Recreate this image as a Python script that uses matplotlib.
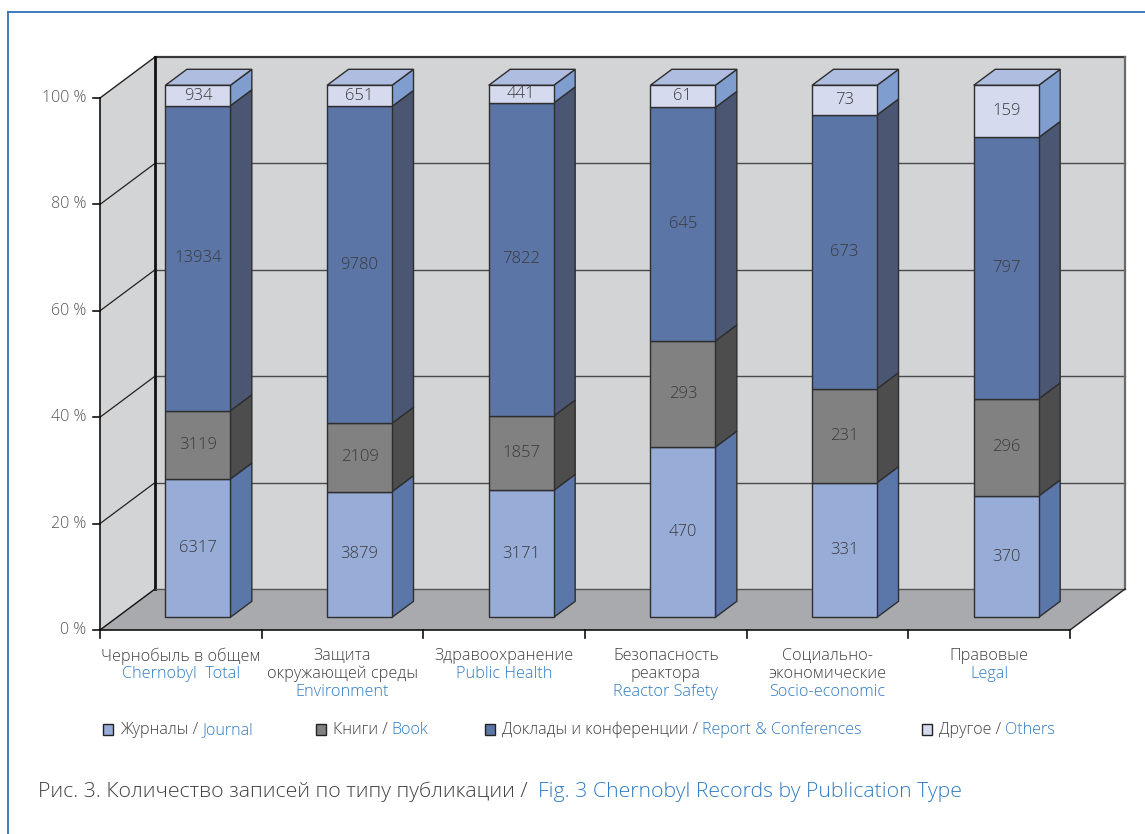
import matplotlib
matplotlib.use("Agg")
import matplotlib.pyplot as plt
from matplotlib.patches import Polygon, Rectangle
from matplotlib.lines import Line2D

plt.rcParams['font.family'] = ['Open Sans', 'DejaVu Sans']
plt.rcParams['font.weight'] = 'light'

# ---------------- data ----------------
categories_ru = [["Чернобыль в общем"], ["Защита", "окружающей среды"], ["Здравоохранение"],
                 ["Безопасность", "реактора"], ["Социально-", "экономические"], ["Правовые"]]
categories_en = ["Chernobyl  Total", "Environment", "Public Health",
                 "Reactor Safety", "Socio-economic", "Legal"]
journal = [6317, 3879, 3171, 470, 331, 370]
book = [3119, 2109, 1857, 293, 231, 296]
report = [13934, 9780, 7822, 645, 673, 797]
others = [934, 651, 441, 61, 73, 159]
series_ru = ["Журналы", "Книги", "Доклады и конференции", "Другое"]
series_en = ["Journal", "Book", "Report & Conferences", "Others"]
yticks = [0, 20, 40, 60, 80, 100]
ytick_labels = ["0 %", "20 %", "40 %", "60 %", "80 %", "100 %"]

# ---------------- styles ----------------
front_colors = ["#98acd8", "#818181", "#5a75a6", "#d5daee"]
side_colors = ["#5b76a9", "#4d4d4d", "#4b5672", "#809dd0"]
top_color = "#afbee0"
edge = "#2e2e2e"
wall = "#d3d4d6"
floor_c = "#a9aaad"
grey_txt = "#404040"
blue_txt = "#2f7bc2"

W, H = 1145, 834
fig = plt.figure(figsize=(W / 100, H / 100), dpi=100)
ax = fig.add_axes([0, 0, 1, 1])
X0, Y0 = 100.0, 630.0
UX, PY = 161.67, 5.32
ax.set_xlim((0 - X0) / UX, (W - X0) / UX)
ax.set_ylim((Y0 - H) / PY, Y0 / PY)
ax.axis('off')

DXu, DYp = 55 / UX, 41 / PY
n = len(journal)


def proj(u, p, d):
    return (u + d * DXu, p + d * DYp)


def px(x, y):
    return ((x - X0) / UX, (Y0 - y) / PY)


# frame
fig.add_artist(Line2D([8 / W, 1.0], [1 - 12 / H, 1 - 12 / H], color="#2f6fb6", lw=1.3))
fig.add_artist(Line2D([8 / W, 8 / W], [1 - 12 / H, 0], color="#2f6fb6", lw=1.3))

# walls
ax.add_patch(Polygon([proj(0, 100, 0), proj(0, 100, 1), proj(0, 0, 1), proj(0, 0, 0)],
                     closed=True, fc=wall, ec="none", zorder=1))
ax.add_patch(Polygon([proj(0, 100, 1), proj(n, 100, 1), proj(n, 0, 1), proj(0, 0, 1)],
                     closed=True, fc=wall, ec="none", zorder=1))
ax.add_patch(Polygon([proj(0, 0, 0), proj(0, 0, 1), proj(n, 0, 1), proj(n, 0, 0)],
                     closed=True, fc=floor_c, ec="none", zorder=1))

# grid lines
for t in yticks[1:-1]:
    a, b = proj(0, t, 1), proj(n, t, 1)
    ax.plot([a[0], b[0]], [a[1], b[1]], color="#4a4a4a", lw=1.0, zorder=2)
    c = proj(0, t, 0)
    ax.plot([c[0], a[0]], [c[1], a[1]], color="#222222", lw=0.9, zorder=2)
# wall outlines
a, b = proj(0, 100, 1), proj(n, 100, 1)
ax.plot([a[0], b[0]], [a[1], b[1]], color="#3a3a3a", lw=1.6, zorder=2)
c = proj(0, 100, 0)
ax.plot([c[0], a[0]], [c[1], a[1]], color="#222222", lw=1.0, zorder=2)
a0 = proj(0, 0, 1)
ax.plot([a[0], a0[0]], [a[1], a0[1]], color="#111111", lw=2.0, zorder=2)
b0 = proj(n, 0, 1)
ax.plot([b[0], b0[0]], [b[1], b0[1]], color="#6a6a6a", lw=1.6, zorder=2)
ax.plot([a0[0], b0[0]], [a0[1], b0[1]], color="#555555", lw=1.0, zorder=2)
f0 = proj(0, 0, 0)
ax.plot([f0[0], a0[0]], [f0[1], a0[1]], color="#111111", lw=1.0, zorder=2)
fr = proj(n, 0, 0)
ax.plot([fr[0], b0[0]], [fr[1], b0[1]], color="#222222", lw=1.0, zorder=2)
# axes lines
ax.plot([0, n], [0, 0], color="#111111", lw=1.2, zorder=6)
ax.plot([0, 0], [0, 100], color="#111111", lw=1.2, zorder=6)
for k in range(n + 1):
    ax.plot([k, k], [0, -8 / PY], color="#111111", lw=1.2, zorder=6)
for t, lab in zip(yticks, ytick_labels):
    ax.plot([-7 / UX, 0], [t, t], color="#111111", lw=1.2, zorder=6)
    ax.text(-14 / UX, t, lab, ha="right", va="center", fontsize=11.5, color="#555555")

# bars
d0, d1 = 0.31, 0.70
bw = 65 / UX
series = [journal, book, report, others]
totals = [sum(s[i] for s in series) for i in range(n)]
bottoms = [0.0] * n
for si, s in enumerate(series):
    pct = [100.0 * s[i] / totals[i] for i in range(n)]
    xs = [i + 0.5 + d0 * DXu for i in range(n)]
    bb = [bottoms[i] + d0 * DYp for i in range(n)]
    ax.bar(xs, pct, bottom=bb, width=bw, color=front_colors[si], edgecolor=edge,
           linewidth=1.0, zorder=4)
    for i in range(n):
        xr = i + 0.5 + bw / 2
        p0, p1 = bottoms[i], bottoms[i] + pct[i]
        ax.add_patch(Polygon([proj(xr, p0, d0), proj(xr, p1, d0), proj(xr, p1, d1), proj(xr, p0, d1)],
                             closed=True, fc=side_colors[si], ec=edge, lw=1.0, zorder=3))
        cx, cy = proj(i + 0.5, (p0 + p1) / 2, d0)
        ax.text(cx, cy, str(s[i]), ha="center", va="center", fontsize=12,
                color="#3a3a3a", zorder=7)
        bottoms[i] = p1
for i in range(n):
    xl, xr = i + 0.5 - bw / 2, i + 0.5 + bw / 2
    ax.add_patch(Polygon([proj(xl, 100, d0), proj(xr, 100, d0), proj(xr, 100, d1), proj(xl, 100, d1)],
                         closed=True, fc=top_color, ec=edge, lw=1.0, zorder=3))

# category labels
for i in range(n):
    y = 656
    for line in categories_ru[i]:
        ax.text(*px(X0 + UX * (i + 0.5), y), line, ha="center", va="center",
                fontsize=11.7, color=grey_txt)
        y += 18
    ax.text(*px(X0 + UX * (i + 0.5), y), categories_en[i], ha="center", va="center",
            fontsize=11.7, color=blue_txt)

# legend + caption (two-colour text)
fig.canvas.draw()
renderer = fig.canvas.get_renderer()


def two_tone(x, y, t1, t2, size, gap):
    t = ax.text(*px(x, y), t1, ha="left", va="baseline", fontsize=size, color=grey_txt)
    ext = t.get_window_extent(renderer=renderer)
    ax.text(*px(ext.x1 + gap, y), t2, ha="left", va="baseline", fontsize=size, color=blue_txt)


leg_x = [103, 316, 485, 922]
for k in range(4):
    ax.add_patch(Rectangle(px(leg_x[k], 735), 10 / UX, 11 / PY, fc=front_colors[k],
                           ec="#222222", lw=1.0, zorder=5))
    two_tone(leg_x[k] + 17, 734.5, series_ru[k] + " /", series_en[k], 11.6, 4)

two_tone(38, 797, "Рис. 3. Количество записей по типу публикации /", "Fig. 3 Chernobyl Records by Publication Type",
         15.3, 10)

fig.savefig("out.png", dpi=100)
